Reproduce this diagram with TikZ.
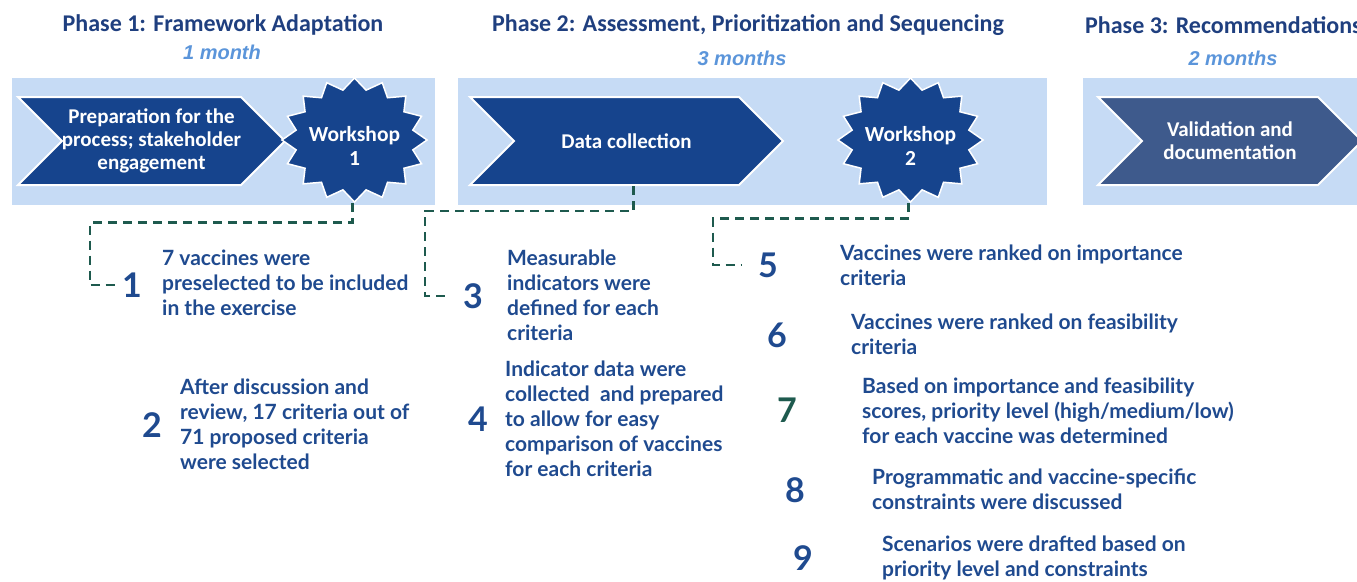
\documentclass[tikz,border=0pt]{standalone}
\usepackage{fontspec}
\setmainfont{Lato}
\newfontfamily\headfont{Carlito}
\newfontfamily\monthfont{Liberation Sans}
\usetikzlibrary{shapes.geometric,shapes.symbols}
\definecolor{headblue}{HTML}{1F3F7F}
\definecolor{chevblue}{HTML}{16448D}
\definecolor{chevgrey}{HTML}{3E5A8C}
\definecolor{bandblue}{HTML}{C6DBF5}
\definecolor{monthblue}{HTML}{5B95DA}
\definecolor{textblue}{HTML}{1F4A8F}
\definecolor{linkgreen}{HTML}{1E5A4E}

\tikzset{
  band/.style={fill=bandblue,anchor=north west,inner sep=0pt,minimum height=127},
  chevron/.style={signal,signal from=west,signal to=east,signal pointer angle=90,
    fill=chevblue,draw=white,line width=2pt,text=white,align=center,inner sep=0pt,
    minimum height=88,font=\headfont\bfseries\fontsize{21}{23}\selectfont},
  burst/.style={star,star points=16,star point ratio=1.22,minimum size=124,
    xscale=1.17,transform shape,fill=chevblue,draw=white,line width=1.5pt,inner sep=0pt},
  burstlabel/.style={text=white,align=center,inner sep=0pt,
    font=\headfont\bfseries\fontsize{21.5}{24}\selectfont},
  phase/.style={text=headblue,inner sep=0pt,font=\headfont\bfseries\fontsize{24}{26}\selectfont},
  month/.style={text=monthblue,inner sep=0pt,font=\monthfont\bfseries\itshape\fontsize{20}{22}\selectfont},
  num/.style={text=textblue,inner sep=4pt,font=\bfseries\fontsize{34}{36}\selectfont},
  note/.style={text=textblue,anchor=west,align=left,inner sep=0pt,font=\bfseries\fontsize{21}{25}\selectfont},
  link/.style={draw=linkgreen,line width=2.8pt,dash pattern=on 9pt off 6pt}
}

\begin{document}
\begin{tikzpicture}[x=1pt,y=-1pt]
\clip (0,0) rectangle (1357,581);

% phase headings
\node[phase] (p1) at (223,25) {Phase 1: Framework Adaptation};
\node[month] (m1) at (222,52) {1 month};
\node[phase] (p2) at (748,25) {Phase 2: Assessment, Prioritization and Sequencing};
\node[month] (m2) at (742,58) {3 months};
\node[phase,anchor=west] (p3) at (1085,25) {Phase 3: Recommendations};
\node[month] (m3) at (1233,58) {2 months};

% light bands behind each phase
\node[band,minimum width=423] (b1) at (12,78) {};
\node[band,minimum width=589] (b2) at (458,78) {};
\node[band,minimum width=290] (b3) at (1083,78) {};

% process arrows and workshops
\node[chevron,minimum width=263] (prep) at (151.5,141) {Preparation for the\\process; stakeholder\\engagement};
\node[burst] (ws1) at (354.5,140) {};
\node[burstlabel] (w1) at ([yshift=-6pt]ws1.center) {Workshop\\1};
\node[chevron,minimum width=313] (dc) at (626.5,141) {Data collection};
\node[burst] (ws2) at (910.5,140) {};
\node[burstlabel] (w2) at ([yshift=-6pt]ws2.center) {Workshop\\2};
\node[chevron,fill=chevgrey,minimum width=264] (val) at (1230,141) {Validation and\\documentation};

% steps
\node[num] (n1) at (132,285) {1};
\node[note] (t1) at (162,283) {7 vaccines were\\preselected to be included\\in the exercise};
\node[num] (n2) at (152,425) {2};
\node[note] (t2) at (180,424) {After discussion and\\review, 17 criteria out of\\71 proposed criteria\\were selected};
\node[num] (n3) at (473,296) {3};
\node[note] (t3) at (507,295) {Measurable\\indicators were\\defined for each\\criteria};
\node[num] (n4) at (478,419) {4};
\node[note] (t4) at (505,419) {Indicator data were\\collected\ \ and prepared\\to allow for easy\\comparison of vaccines\\for each criteria};
\node[num] (n5) at (768,265) {5};
\node[note] (t5) at (840,265) {Vaccines were ranked on importance\\criteria};
\node[num] (n6) at (777,335) {6};
\node[note] (t6) at (851,334) {Vaccines were ranked on feasibility\\criteria};
\node[num,text=linkgreen] (n7) at (787,410) {7};
\node[note] (t7) at (862,411) {Based on importance and feasibility\\scores, priority level (high/medium/low)\\for each vaccine was determined};
\node[num] (n8) at (795,490) {8};
\node[note] (t8) at (872,489) {Programmatic and vaccine-specific\\constraints were discussed};
\node[num] (n9) at (803,558) {9};
\node[note] (t9) at (882,558) {Scenarios were drafted based on\\priority level and constraints};

% dashed links down to the steps
\draw[link] ([xshift=-2pt]ws1.south) -- ++(0,19) -| ([xshift=-28pt]n1.west) -- (n1.west);
\draw[link] ([xshift=7pt]dc.south) -- ++(0,25) -| ([xshift=-34pt]n3.west) -- ([xshift=-12pt]n3.west);
\draw[link] ([xshift=-2pt]ws2.south) -- ++(0,15) -| ([xshift=-41pt]n5.west) -- ([xshift=-12pt]n5.west);
\end{tikzpicture}
\end{document}
